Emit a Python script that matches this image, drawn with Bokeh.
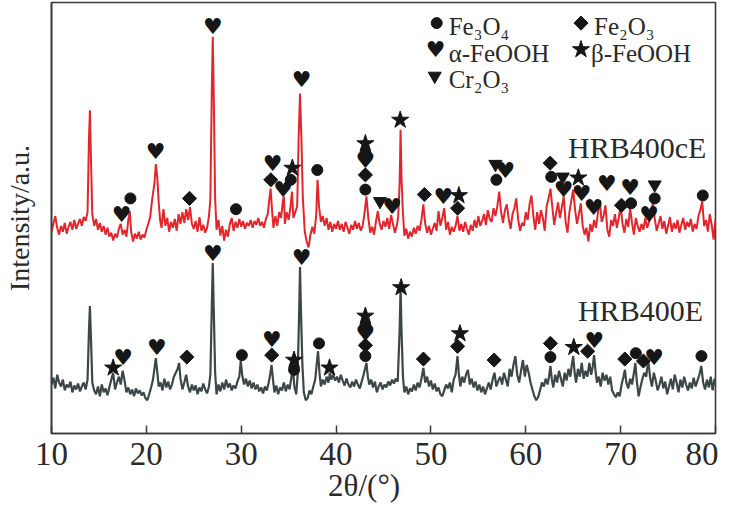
import math
from bokeh.plotting import figure
from bokeh.models import Range1d, FixedTicker
from bokeh.core.properties import value
from bokeh.embed import file_html
from bokeh.resources import INLINE

# ---------------- data ----------------
x_ticks = [10, 20, 30, 40, 50, 60, 70, 80]

red_theta = [
    10.0,10.2,10.4,10.6,10.8,11.0,11.2,11.4,11.6,11.8,12.0,12.2,12.4,12.6,12.8,13.0,13.2,13.4,13.6,13.8,13.95,14.05,14.15,14.3,14.5,
    14.7,14.9,15.1,15.3,15.5,15.7,15.9,16.1,16.3,16.5,16.7,16.9,17.1,17.3,17.5,17.7,17.9,18.1,18.25,18.4,18.6,18.8,19.0,19.2,19.4,19.6,19.8,20.0,20.2,20.4,20.6,
    20.85,21.0,21.15,21.3,21.45,21.6,21.8,22.0,22.2,22.4,22.6,22.8,23.0,23.2,23.4,23.6,23.8,24.0,24.2,24.4,24.6,24.8,25.0,25.2,25.4,25.6,25.8,26.0,26.2,26.4,26.6,26.75,
    26.9,27.0,27.1,27.25,27.4,27.6,27.8,28.0,28.2,28.4,28.6,28.8,29.0,29.2,29.4,29.6,29.8,30.0,30.2,30.4,30.6,30.8,31.0,31.2,31.4,31.6,31.8,32.0,32.2,32.4,32.6,32.8,
    32.95,33.1,33.25,33.4,33.6,33.8,34.0,34.2,34.4,34.5,34.6,34.8,35.0,35.2,35.35,35.5,35.7,35.9,36.05,36.2,36.35,36.5,36.7,36.9,37.1,37.3,37.5,37.7,37.9,38.05,38.2,38.4,38.6,38.8,39.0,39.2,39.4,39.6,39.8,40.0,
    40.2,40.4,40.6,40.8,41.0,41.2,41.4,41.6,41.8,42.0,42.2,42.4,42.6,42.8,43.0,43.2,43.4,43.6,43.8,44.0,44.2,44.4,44.6,44.8,45.0,45.2,45.4,45.6,45.8,46.0,46.2,46.4,46.55,
    46.7,46.8,46.9,47.05,47.2,47.4,47.6,47.8,48.0,48.2,48.4,48.6,48.8,49.0,49.2,49.4,49.6,49.8,50.0,50.2,50.4,50.6,50.8,51.0,51.2,51.4,51.6,51.8,52.0,52.2,52.4,52.6,52.8,53.0,
    53.2,53.4,53.6,53.8,54.0,54.2,54.4,54.6,54.8,55.0,55.2,55.4,55.6,55.8,56.0,56.2,56.4,56.6,56.8,57.0,57.2,57.4,57.6,57.8,58.0,58.2,58.4,58.6,58.8,59.0,59.2,59.4,59.6,59.8,60.0,
    60.2,60.4,60.6,60.8,61.0,61.2,61.4,61.6,61.8,62.0,62.2,62.4,62.6,62.8,63.0,63.2,63.4,63.6,63.8,64.0,64.2,64.4,64.6,64.8,65.0,65.2,65.4,65.6,65.8,66.0,
    66.2,66.4,66.6,66.8,67.0,67.2,67.4,67.6,67.8,68.0,68.2,68.4,68.6,68.8,69.0,69.2,69.4,69.6,69.8,70.0,70.2,70.4,70.6,70.8,71.0,71.2,71.4,71.6,71.8,72.0,
    72.2,72.4,72.6,72.8,73.0,73.2,73.4,73.6,73.8,74.0,74.2,74.4,74.6,74.8,75.0,75.2,75.4,75.6,75.8,76.0,76.2,76.4,76.6,76.8,77.0,77.2,77.4,77.6,77.8,78.0,78.2,78.4,78.6,78.8,79.0,79.2,79.4,79.6,79.8,80.0,
]
red_int = [
    206,214,222,210,203,212,206,215,204,211,216,208,218,209,214,219,212,221,217,226,300,330,285,224,212,
    219,208,215,206,212,203,210,201,205,197,204,200,209,214,203,208,201,218,227,206,196,204,199,206,198,203,200,208,214,221,238,
    255,275,262,236,218,210,229,212,220,206,216,210,219,207,224,214,226,215,229,218,231,214,209,217,206,221,207,213,205,210,222,240,
    350,405,350,240,208,218,202,212,197,208,201,214,220,207,216,210,219,211,217,209,215,212,218,210,217,213,220,212,216,210,219,224,
    238,250,228,210,222,212,226,220,238,242,214,226,218,232,247,220,226,232,300,347,300,240,206,196,190,203,211,204,222,259,232,216,222,212,220,208,216,206,214,209,
    217,208,214,206,216,210,204,213,208,217,209,215,207,212,225,242,220,205,211,203,216,227,214,208,217,211,220,209,223,214,205,212,222,
    255,310,260,225,202,209,199,206,201,210,204,212,207,218,234,214,205,212,203,209,215,207,227,212,220,230,208,216,203,211,206,212,222,207,
    214,206,216,209,203,213,207,218,210,222,212,217,224,213,228,219,216,230,222,232,247,226,215,228,234,219,209,224,230,240,218,207,215,212,226,
    218,234,243,222,208,226,214,228,220,207,232,240,250,231,213,225,236,220,231,242,216,205,226,238,249,228,214,224,235,212,
    203,210,196,214,206,218,210,225,238,216,222,233,208,201,218,212,224,210,220,232,214,205,219,211,230,215,203,220,212,206,
    214,208,220,210,216,225,236,219,207,214,222,209,217,204,212,221,206,215,209,218,205,213,220,208,216,211,219,206,214,209,222,228,237,212,218,206,224,213,198,219,
]

gray_theta = [
    10.0,10.2,10.4,10.6,10.8,11.0,11.2,11.4,11.6,11.8,12.0,12.2,12.4,12.6,12.8,13.0,13.2,13.4,13.6,13.8,13.95,14.05,14.15,14.3,14.5,
    14.7,14.9,15.1,15.3,15.5,15.7,15.9,16.1,16.3,16.5,16.7,16.9,17.1,17.3,17.5,17.7,17.9,18.1,18.3,18.5,18.7,18.9,19.1,19.3,19.5,19.7,19.9,20.1,20.3,20.5,20.7,
    20.85,21.0,21.15,21.3,21.5,21.7,21.9,22.1,22.3,22.5,22.7,22.9,23.1,23.3,23.45,23.6,23.8,24.0,24.2,24.4,24.6,24.8,25.0,25.2,25.4,25.6,25.8,26.0,26.2,26.4,26.6,26.75,
    26.9,27.0,27.1,27.25,27.4,27.6,27.8,28.0,28.2,28.4,28.6,28.8,29.0,29.2,29.4,29.6,29.8,29.95,30.1,30.3,30.5,30.7,30.9,31.1,31.3,31.5,31.7,31.9,32.1,32.3,32.5,32.7,32.9,
    33.05,33.2,33.35,33.5,33.7,33.9,34.1,34.3,34.5,34.7,34.9,35.1,35.3,35.45,35.6,35.8,35.95,36.1,36.2,36.3,36.45,36.6,36.8,37.0,37.2,37.4,37.6,37.8,37.95,38.1,38.25,38.4,38.6,38.8,39.0,39.2,39.35,39.5,39.7,39.9,
    40.1,40.3,40.5,40.7,40.9,41.1,41.3,41.5,41.7,41.9,42.1,42.3,42.5,42.7,42.9,43.05,43.2,43.35,43.5,43.7,43.9,44.1,44.3,44.5,44.7,44.9,45.1,45.3,45.5,45.7,45.9,46.1,46.3,46.5,46.7,
    46.8,46.9,47.05,47.2,47.4,47.6,47.8,48.0,48.2,48.4,48.6,48.8,49.0,49.2,49.4,49.6,49.8,50.0,50.2,50.4,50.6,50.8,51.0,51.2,51.4,51.6,51.8,52.0,52.2,52.4,52.6,52.8,52.95,
    53.1,53.3,53.5,53.7,53.9,54.1,54.3,54.5,54.7,54.9,55.1,55.3,55.5,55.7,55.9,56.1,56.3,56.5,56.7,56.9,57.1,57.3,57.5,57.7,57.9,58.1,58.3,58.5,58.7,58.9,59.1,59.3,59.5,59.7,59.9,
    60.1,60.3,60.5,60.7,60.9,61.1,61.3,61.5,61.7,61.9,62.1,62.3,62.45,62.6,62.75,62.9,63.1,63.3,63.5,63.7,63.9,64.1,64.3,64.5,64.7,64.85,65.0,65.15,65.3,65.5,65.7,65.9,
    66.1,66.3,66.5,66.7,66.9,67.05,67.2,67.35,67.5,67.7,67.9,68.1,68.3,68.5,68.7,68.9,69.1,69.3,69.5,69.7,69.9,70.1,70.3,70.45,70.6,70.8,71.0,71.2,71.4,71.55,71.7,71.9,72.1,72.3,72.5,72.7,72.9,
    73.1,73.3,73.5,73.7,73.9,74.1,74.3,74.5,74.7,74.9,75.1,75.3,75.5,75.7,75.9,76.1,76.3,76.5,76.7,76.9,77.1,77.3,77.5,77.7,77.9,78.1,78.3,78.5,78.7,78.9,79.1,79.3,79.5,79.7,79.9,80.0,
]
gray_int = [
    50,57,46,60,52,48,55,44,50,47,53,42,49,45,51,43,48,52,45,55,105,130,100,52,44,
    40,48,38,50,42,46,39,47,55,62,45,52,58,50,64,54,42,47,40,45,38,46,41,44,39,42,36,34,40,47,55,
    66,77,63,48,52,44,56,47,53,45,50,58,62,66,72,56,45,52,60,48,42,50,44,49,40,47,43,51,45,41,48,60,
    130,174,130,62,40,50,43,52,45,55,47,51,44,49,46,53,58,74,60,50,56,48,54,46,52,45,50,43,47,41,48,44,52,
    60,70,55,42,49,40,47,44,52,43,50,45,58,67,48,40,60,120,170,125,70,42,34,36,44,40,48,55,70,84,62,48,55,50,58,52,62,55,60,54,
    58,52,60,54,49,56,50,47,53,48,55,50,46,53,60,66,72,58,50,55,47,53,42,48,52,45,50,47,53,49,55,51,56,53,105,
    149,105,58,42,48,40,46,43,50,44,52,47,56,67,52,58,48,54,45,51,43,47,40,38,44,50,46,52,42,55,60,79,60,
    48,58,52,60,65,50,56,47,53,44,50,42,48,40,46,52,45,55,62,48,54,58,50,62,55,48,66,58,70,79,60,52,64,75,58,
    70,62,52,45,38,34,37,44,52,48,56,50,58,69,55,47,60,52,64,56,48,62,54,66,58,70,79,62,52,66,58,72,
    56,64,58,72,60,68,80,64,52,58,48,62,54,60,50,58,44,40,37,42,38,50,58,65,52,46,56,50,62,72,54,38,48,56,62,58,75,
    58,48,62,54,44,50,58,46,53,40,48,56,45,60,52,42,55,47,58,50,44,52,46,57,48,54,60,69,52,45,55,47,58,44,56,50,
]

# phase markers (2theta, intensity level)
fe3o4_theta = [18.32, 29.45, 35.22, 38.02, 43.09, 43.09, 56.9, 62.68, 71.1, 73.59, 78.66,
               30.07, 35.57, 38.2, 43.09, 43.09, 62.6, 71.6, 78.52]
fe3o4_y = [240, 229, 259, 269, 286, 249, 259, 262, 235, 240, 243,
           80, 65, 92, 110, 79, 78, 82, 79]
fe2o3_theta = [24.55, 33.12, 43.09, 49.31, 52.81, 62.57, 70.09,
               24.27, 33.22, 43.09, 49.21, 52.81, 56.66, 62.6, 66.52, 70.44, 72.4]
fe2o3_y = [240, 259, 264, 244, 230, 276, 233,
           78, 80, 90, 76, 89, 75, 92, 84, 76, 74]
afeooh_theta = [17.38, 20.98, 27.0, 33.3, 34.42, 36.37, 43.09, 45.9, 51.3, 57.85, 64.0, 65.89, 67.15, 68.55, 71.0, 72.99,
                17.56, 21.12, 27.0, 33.22, 36.37, 43.09, 67.22, 73.52]
afeooh_y = [224, 288, 416, 276, 249, 361, 279, 232, 242, 269, 249, 245, 231, 255, 251, 224,
            78, 88, 184, 96, 180, 102, 95, 78]
bfeooh_theta = [35.39, 43.09, 46.76, 52.95, 65.54,
                16.5, 35.57, 39.31, 43.09, 46.86, 53.06, 65.06]
bfeooh_y = [271, 296, 320, 243, 261,
            67, 75, 67, 120, 149, 102, 88]
cr2o3_theta = [44.63, 56.8, 63.9, 73.59]
cr2o3_y = [237, 275, 262, 254]

legend_labels = ["Fe₃O₄", "Fe₂O₃", "α-FeOOH", "β-FeOOH", "Cr₂O₃"]
series_labels = ["HRB400cE", "HRB400E"]

# ---------------- figure ----------------
SERIF = "Liberation Serif"
INK = "#161616"
AX = "#3a3a3a"
TXT = "#2a2a2a"

p = figure(width=718, height=505, output_backend="svg", toolbar_location=None,
           x_range=Range1d(10, 80), y_range=Range1d(0, 440),
           min_border_left=48, min_border_right=3, min_border_top=2, min_border_bottom=63)
p.background_fill_color = "white"
p.border_fill_color = "white"
p.grid.visible = False
p.outline_line_color = AX
p.outline_line_width = 1.6

xa = p.xaxis[0]
xa.ticker = FixedTicker(ticks=x_ticks)
xa.major_tick_in = 8
xa.major_tick_out = 0
xa.minor_tick_line_color = None
xa.major_tick_line_color = AX
xa.major_tick_line_width = 1.5
xa.axis_line_color = AX
xa.axis_line_width = 1.6
xa.major_label_text_font = SERIF
xa.major_label_text_font_size = "33px"
xa.major_label_text_line_height = 0.8
xa.major_label_text_color = TXT
xa.major_label_standoff = 9
xa.axis_label = "2θ/(°)" + "\u00a0" * 5
xa.axis_label_text_font = SERIF
xa.axis_label_text_font_size = "31px"
xa.axis_label_text_line_height = 0.8
xa.axis_label_text_font_style = "normal"
xa.axis_label_text_color = TXT
xa.axis_label_standoff = 0

ya = p.yaxis[0]
ya.ticker = FixedTicker(ticks=[])
ya.major_tick_in = 0
ya.major_tick_out = 0
ya.minor_tick_line_color = None
ya.axis_line_color = AX
ya.axis_line_width = 1.6
ya.axis_label = "Intensity/a.u."
ya.axis_label_text_font = SERIF
ya.axis_label_text_font_size = "28px"
ya.axis_label_text_font_style = "normal"
ya.axis_label_text_color = TXT
ya.axis_label_standoff = 17

# curves
n_r = min(len(red_theta), len(red_int))
n_g = min(len(gray_theta), len(gray_int))
p.line(gray_theta[:n_g], gray_int[:n_g], line_color="#3c4747", line_width=2.2)
p.line(red_theta[:n_r], red_int[:n_r], line_color="#e3262c", line_width=2.0)

# markers
def hearts(xs, ys):
    p.text(x=xs, y=ys, text=["♥"] * len(xs), text_font=value("DejaVu Sans"),
           text_font_size="22px", text_align="center", text_baseline="middle",
           text_color=INK)

def diamonds(xs, ys):
    p.scatter(xs, ys, marker="square", angle=math.pi / 4, size=10, color=INK)

hearts(afeooh_theta, afeooh_y)
diamonds(fe2o3_theta, fe2o3_y)
p.scatter(fe3o4_theta, fe3o4_y, marker="circle", size=11, color=INK)
p.scatter(bfeooh_theta, bfeooh_y, marker="star", size=18, color=INK)
p.scatter(cr2o3_theta, cr2o3_y, marker="inverted_triangle", size=13, color=INK)

# legend (drawn manually)
p.scatter([50.61], [419], marker="circle", size=11, color=INK)
diamonds([65.82], [419])
hearts([50.5], [392])
p.scatter([65.82], [392], marker="star", size=18, color=INK)
p.scatter([50.4], [365], marker="inverted_triangle", size=13, color=INK)
p.text(x=[51.87, 67.19, 51.87, 66.87, 51.87], y=[415, 415, 388, 388, 361], text=legend_labels,
       text_font=value(SERIF), text_font_size="25px", text_align="left",
       text_baseline="alphabetic", text_color=TXT)

# series labels
p.text(x=[64.46, 65.5], y=[292, 126], text=series_labels, text_font=value(SERIF),
       text_font_size="30px", text_align="left", text_baseline="alphabetic",
       text_color=TXT)

open("out.html", "w").write(file_html(p, INLINE))
